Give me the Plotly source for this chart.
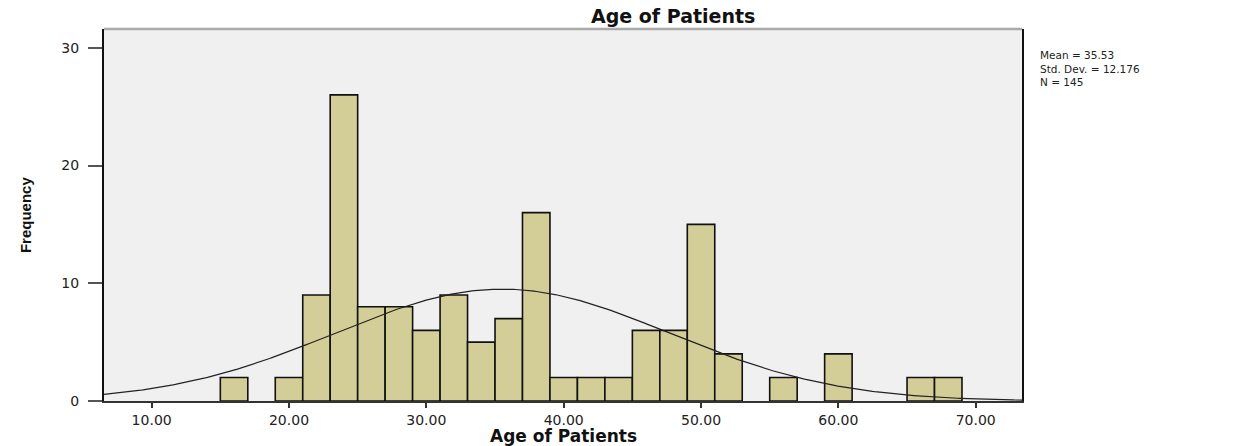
import numpy as np
import plotly.graph_objects as go

# Histogram bins (centre of each 2-year bin) and patient counts
bin_centers = [16, 20, 22, 24, 26, 28, 30, 32, 34, 36, 38, 40, 42, 44, 46, 48, 50, 52, 56, 60, 66, 68]
counts = [2, 2, 9, 26, 8, 8, 6, 9, 5, 7, 16, 2, 2, 2, 6, 6, 15, 4, 2, 4, 2, 2]
bin_width = 2

# Summary statistics shown in the chart
mean_age = 35.53
std_dev = 12.176
n_patients = 145

x_ticks = [10, 20, 30, 40, 50, 60, 70]
x_tick_labels = ["10.00", "20.00", "30.00", "40.00", "50.00", "60.00", "70.00"]
y_ticks = [0, 10, 20, 30]

x_range = [6.53, 73.37]
y_range = [0, 31.6]

# fitted normal curve (from stated mean / SD / N)
curve_x = np.linspace(x_range[0], x_range[1], 400)
curve_y = n_patients * bin_width / (std_dev * np.sqrt(2 * np.pi)) * np.exp(-0.5 * ((curve_x - mean_age) / std_dev) ** 2)

fig = go.Figure()
fig.add_trace(go.Bar(
    x=bin_centers, y=counts, width=bin_width,
    marker=dict(color="#D3CE97", line=dict(color="#111111", width=1.6)),
    showlegend=False, hoverinfo="x+y",
))
fig.add_trace(go.Scatter(
    x=curve_x, y=curve_y, mode="lines",
    line=dict(color="#222222", width=1.2), showlegend=False, hoverinfo="skip",
))

tick_font = dict(family="DejaVu Sans", size=14, color="#222222")

fig.update_layout(
    width=1248, height=446,
    margin=dict(l=104, r=226, t=29, b=45),
    paper_bgcolor="white", plot_bgcolor="#F0F0F0",
    xaxis=dict(
        range=x_range, tickmode="array", tickvals=x_ticks, ticktext=x_tick_labels,
        ticks="outside", ticklen=5, tickwidth=1.5, tickcolor="#333333",
        showgrid=False, zeroline=False,
        showline=True, linecolor="#333333", linewidth=2,
        tickfont=tick_font, ticklabelstandoff=0,
    ),
    yaxis=dict(
        range=y_range, tickmode="array", tickvals=y_ticks,
        ticks="outside", ticklen=14, tickwidth=1.5, tickcolor="#555555",
        showgrid=False, zeroline=False,
        showline=True, linecolor="#111111", linewidth=2, mirror=True,
        tickfont=tick_font, ticklabelstandoff=6,
    ),
    shapes=[dict(type="line", xref="paper", yref="paper", x0=0, x1=1, y0=1, y1=1,
                 line=dict(color="#AAAAAA", width=2.5))],
    annotations=[
        dict(text="<b>Age of Patients</b>", xref="paper", yref="paper",
             x=0.62, y=1.034, xanchor="center", yanchor="middle", showarrow=False,
             font=dict(family="DejaVu Sans", size=19, color="#111111")),
        dict(text="<b>Age of Patients</b>", xref="paper", yref="paper",
             x=0.5, y=-0.094, xanchor="center", yanchor="middle", showarrow=False,
             font=dict(family="DejaVu Sans", size=17, color="#111111")),
        dict(text="<b>Frequency</b>", xref="paper", yref="paper", textangle=-90,
             x=-0.086, y=0.5, xanchor="center", yanchor="middle", showarrow=False,
             font=dict(family="Liberation Sans", size=15, color="#111111")),
        dict(text=f"Mean = {mean_age}<br>Std. Dev. = {std_dev}<br>N = {n_patients}",
             xref="paper", yref="paper", align="left",
             x=1.0174, y=0.9516, xanchor="left", yanchor="top", showarrow=False,
             font=dict(family="DejaVu Sans", size=10.5, color="#222222")),
    ],
)

fig.write_html("out.html", config={"displayModeBar": False},
               post_script="document.body.style.margin='0';")
